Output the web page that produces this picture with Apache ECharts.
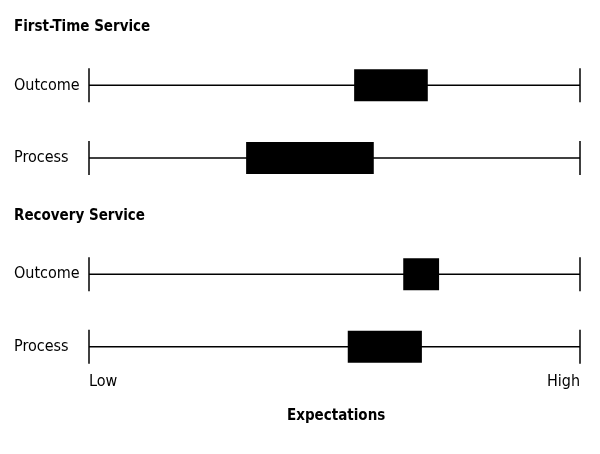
<!DOCTYPE html>
<html><head><meta charset="utf-8">
<script src="https://cdn.jsdelivr.net/npm/echarts@6/dist/echarts.min.js"></script>
<style>html,body{margin:0;padding:0;background:#fff}#c{width:600px;height:454px}</style>
</head><body><div id="c"></div>
<script>
// category slots (half-line spacing); empty strings are spacer slots
const rows = ['First-Time Service', '', '', '', 'Outcome', '', '', '', '', 'Process', '', '', '',
  'Recovery Service', '', '', '', 'Outcome', '', '', '', '', 'Process'];
const headers = ['First-Time Service', 'Recovery Service'];
const barRowIndex = [4, 9, 17, 22];
const barStart = [54.0, 32.0, 64.0, 52.7];
const barEnd = [69.0, 58.0, 71.3, 67.8];
const tickLabels = ['Low', 'High'];
const FONT = '"Liberation Sans Narrow", "DejaVu Sans Condensed", sans-serif';

const data = barRowIndex.map((r, i) => [barStart[i], barEnd[i], r]);
const chart = echarts.init(document.getElementById('c'));
chart.setOption({
  animation: false,
  grid: { left: 89, right: 20, top: 20, bottom: 100 },
  xAxis: { type: 'value', min: 0, max: 100, show: false },
  yAxis: {
    type: 'category', data: rows, inverse: true,
    axisLine: { show: false }, axisTick: { show: false },
    axisLabel: {
      interval: 0, margin: 75, align: 'left', fontFamily: FONT, fontSize: 16, color: '#000',
      formatter: v => headers.includes(v) ? '{h|' + v + '}' : v,
      rich: { h: { fontWeight: 'bold', fontSize: 15, fontFamily: FONT, color: '#000' } }
    }
  },
  graphic: [
    { type: 'text', left: 89, top: 374, style: { text: tickLabels[0], font: '16px ' + FONT, fill: '#000' } },
    { type: 'text', right: 20, top: 374, style: { text: tickLabels[1], font: '16px ' + FONT, fill: '#000' } },
    { type: 'text', left: 287, top: 409, style: { text: 'Expectations', font: 'bold 15px ' + FONT, fill: '#000' } }
  ],
  series: [{
    type: 'custom',
    data: data,
    encode: { x: [0, 1], y: 2 },
    renderItem: (params, api) => {
      const y = api.coord([0, api.value(2)])[1];
      const x0 = api.coord([0, 0])[0], x1 = api.coord([100, 0])[0];
      const a = api.coord([api.value(0), 0])[0], b = api.coord([api.value(1), 0])[0];
      const ls = { stroke: '#000', lineWidth: 1.5 };
      return { type: 'group', children: [
        { type: 'line', shape: { x1: x0, y1: y, x2: x1, y2: y }, style: ls },
        { type: 'line', shape: { x1: x0, y1: y - 17, x2: x0, y2: y + 17 }, style: ls },
        { type: 'line', shape: { x1: x1, y1: y - 17, x2: x1, y2: y + 17 }, style: ls },
        { type: 'rect', shape: { x: a, y: y - 16, width: b - a, height: 32 }, style: { fill: '#000' } }
      ]};
    }
  }]
});
</script></body></html>
